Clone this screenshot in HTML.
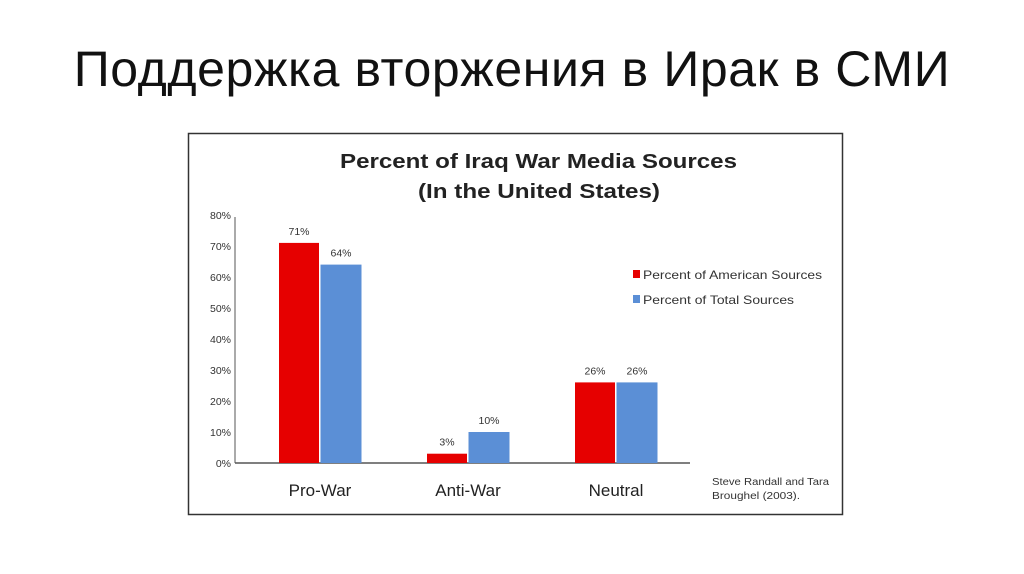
<!DOCTYPE html>
<html><head><meta charset="utf-8"><style>
body{margin:0;width:1024px;height:574px;background:#fff;font-family:"Liberation Sans",sans-serif;overflow:hidden;position:relative}
#t{position:absolute;left:0;width:1024px;top:40px;text-align:center;font-size:50px;letter-spacing:0.6px;color:#111}
svg{position:absolute;left:0;top:0}
</style></head><body>
<div id="t">Поддержка вторжения в Ирак в СМИ</div>
<svg id="c" width="1024" height="574"></svg>
<script>
const categories=["Pro-War","Anti-War","Neutral"];
const american=[71,3,26];
const total=[64,10,26];
const ticks=[0,10,20,30,40,50,60,70,80];
const ns="http://www.w3.org/2000/svg",svg=document.getElementById('c');
function mk(t,a,txt){const e=document.createElementNS(ns,t);for(const k in a)e.setAttribute(k,a[k]);if(txt!=null)e.textContent=txt;svg.appendChild(e);return e;}
const y0=463,pxPer=3.1,x0=235;
const y=v=>y0-v*pxPer;
const gx=i=>320+i*148;
let e=mk('rect',{x:188.5,y:133.5,width:654,height:381,fill:'#fff',stroke:'#333','stroke-width':1.5});


e=mk('text',{x:340,y:168,'font-size':20,'font-weight':'bold',fill:'#222',textLength:397,lengthAdjust:'spacingAndGlyphs'},'Percent of Iraq War Media Sources');


e=mk('text',{x:418,y:198,'font-size':20,'font-weight':'bold',fill:'#222',textLength:242,lengthAdjust:'spacingAndGlyphs'},'(In the United States)');


ticks.forEach(v=>{e=mk('text',{x:231,y:y(v)+4,'text-anchor':'end','font-size':10.5,fill:'#333'},v+'%');

});
e=mk('line',{x1:x0,y1:y(80)+2,x2:x0,y2:y0,stroke:'#555','stroke-width':1});


e=mk('line',{x1:x0,y1:y0,x2:690,y2:y0,stroke:'#555','stroke-width':1.5});


categories.forEach((c,i)=>{
 const cx=gx(i);
 e=mk('rect',{x:cx-41,y:y(american[i]),width:40,height:american[i]*pxPer,fill:'#e60000'});
 
 
 e=mk('rect',{x:cx+0.5,y:y(total[i]),width:41,height:total[i]*pxPer,fill:'#5b8fd6'});
 
 
 e=mk('text',{x:cx-21,y:y(american[i])-8,'text-anchor':'middle','font-size':10.5,fill:'#333'},american[i]+'%');
 
 
 e=mk('text',{x:cx+21,y:y(total[i])-8,'text-anchor':'middle','font-size':10.5,fill:'#333'},total[i]+'%');
 
 
 e=mk('text',{x:cx,y:496,'text-anchor':'middle','font-size':17,fill:'#222'},c);
 
 
});
e=mk('rect',{x:633,y:270,width:7,height:8,fill:'#e60000'});


e=mk('text',{x:643,y:279,'font-size':12,fill:'#333',textLength:179,lengthAdjust:'spacingAndGlyphs'},'Percent of American Sources');


e=mk('rect',{x:633,y:295,width:7,height:8,fill:'#5b8fd6'});


e=mk('text',{x:643,y:304,'font-size':12,fill:'#333',textLength:151,lengthAdjust:'spacingAndGlyphs'},'Percent of Total Sources');


e=mk('text',{x:712,y:485,'font-size':10,fill:'#333',textLength:117,lengthAdjust:'spacingAndGlyphs'},'Steve Randall and Tara');


e=mk('text',{x:712,y:499,'font-size':10,fill:'#333',textLength:88,lengthAdjust:'spacingAndGlyphs'},'Broughel (2003).');


</script>
</body></html>
